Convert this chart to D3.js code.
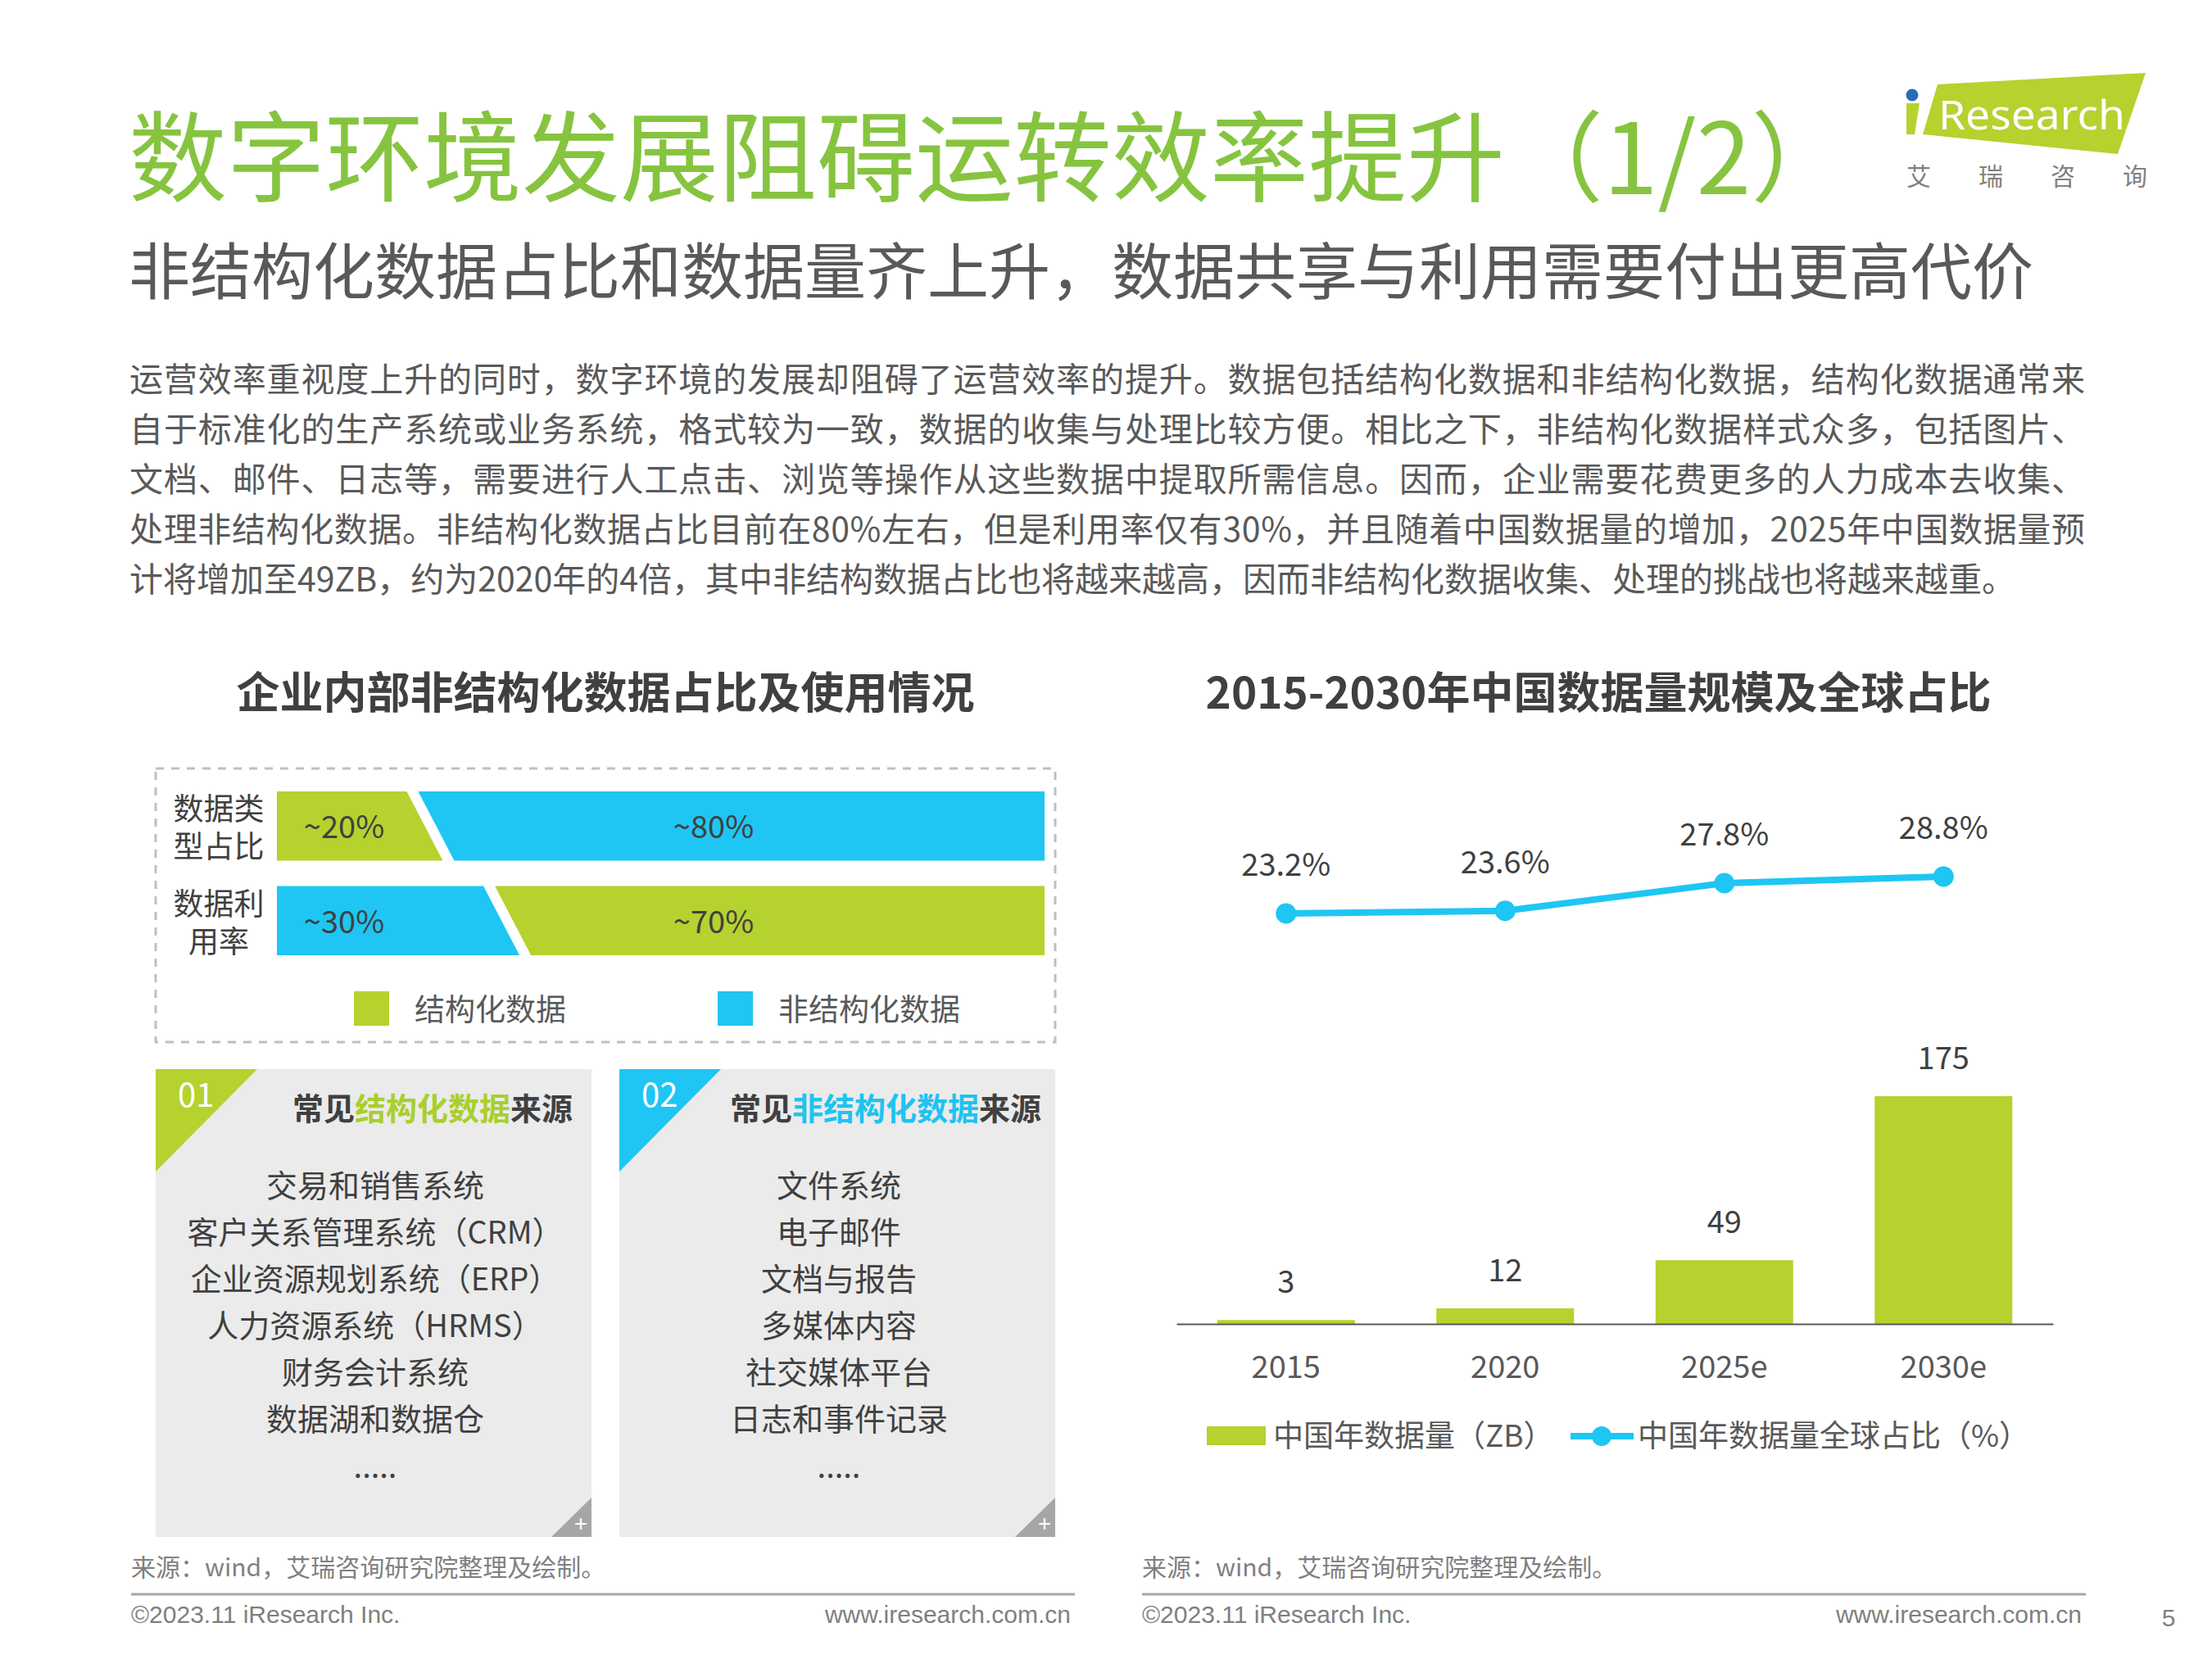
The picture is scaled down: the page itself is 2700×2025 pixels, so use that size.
<!DOCTYPE html>
<html>
<head>
<meta charset="utf-8">
<script src="https://cdn.jsdelivr.net/npm/d3@7"></script>
<style>
  body { margin: 0; background: #ffffff; }
  svg { display: block; }
</style>
</head>
<body>
<script>
// ---- datos ----
const bodyLines = [
  "运营效率重视度上升的同时，数字环境的发展却阻碍了运营效率的提升。数据包括结构化数据和非结构化数据，结构化数据通常来",
  "自于标准化的生产系统或业务系统，格式较为一致，数据的收集与处理比较方便。相比之下，非结构化数据样式众多，包括图片、",
  "文档、邮件、日志等，需要进行人工点击、浏览等操作从这些数据中提取所需信息。因而，企业需要花费更多的人力成本去收集、",
  "处理非结构化数据。非结构化数据占比目前在80%左右，但是利用率仅有30%，并且随着中国数据量的增加，2025年中国数据量预",
  "计将增加至49ZB，约为2020年的4倍，其中非结构数据占比也将越来越高，因而非结构化数据收集、处理的挑战也将越来越重。"
];

const kinds = ["结构化数据", "非结构化数据"];
const rowNames = ["数据类型占比", "数据利用率"];
const rowLabelLines = [["数据类", "型占比"], ["数据利", "用率"]];
const leftKinds = ["结构化数据", "非结构化数据"];
const rightKinds = ["非结构化数据", "结构化数据"];
const leftValues = [20, 30];
const rightValues = [80, 70];

const structuredSources = ["交易和销售系统", "客户关系管理系统（CRM）", "企业资源规划系统（ERP）", "人力资源系统（HRMS）", "财务会计系统", "数据湖和数据仓", "....."];
const unstructuredSources = ["文件系统", "电子邮件", "文档与报告", "多媒体内容", "社交媒体平台", "日志和事件记录", "....."];

const years = ["2015", "2020", "2025e", "2030e"];
const volumeZB = [3, 12, 49, 175];
const globalShare = [23.2, 23.6, 27.8, 28.8];

// ---- configuracion ----
const width = 2700;
const height = 2025;
const cjk = "'Noto Sans CJK SC', 'Noto Sans', sans-serif";
const arial = "'Liberation Sans', Arial, sans-serif";
const green = "#B5D22F";
const blue = "#1FC6F3";
const titleGreen = "#86C440";
const dark = "#404040";
const mid = "#595959";
const light = "#808080";

const svg = d3.select("body")
  .append("svg")
  .attr("width", width)
  .attr("height", height);

svg.append("rect").attr("width", width).attr("height", height).attr("fill", "#fff");

// ---- cabecera ----
svg.append("text")
  .attr("x", 157).attr("y", 237)
  .attr("font-family", cjk).attr("font-size", 120)
  .attr("fill", titleGreen)
  .text("数字环境发展阻碍运转效率提升（1/2）");

svg.append("text")
  .attr("x", 157).attr("y", 359)
  .attr("font-family", cjk).attr("font-size", 75)
  .attr("fill", mid)
  .text("非结构化数据占比和数据量齐上升，数据共享与利用需要付出更高代价");

svg.append("g").selectAll("text")
  .data(bodyLines)
  .enter()
  .append("text")
  .attr("x", 158)
  .attr("y", (d, i) => 478 + i * 61)
  .attr("font-family", cjk).attr("font-size", 41)
  .attr("fill", mid)
  .each(function (d, i) {
    if (i < bodyLines.length - 1) {
      d3.select(this).attr("textLength", 2387).attr("lengthAdjust", "spacing");
    }
  })
  .text(d => d);

// logo
const logo = svg.append("g");
logo.append("polygon")
  .attr("points", "2365,103 2619,89 2585,188 2347,164")
  .attr("fill", green);
logo.append("polygon")
  .attr("points", "2327,126 2343,126 2337,164 2327,164")
  .attr("fill", green);
logo.append("circle").attr("cx", 2334).attr("cy", 116).attr("r", 7.5).attr("fill", "#2A6BB8");
logo.append("text")
  .attr("x", 2366).attr("y", 158)
  .attr("font-family", "'Noto Sans', sans-serif").attr("font-size", 50)
  .attr("textLength", 228).attr("lengthAdjust", "spacingAndGlyphs")
  .attr("fill", "#fff")
  .text("Research");
logo.selectAll(".logo-cn")
  .data(["艾", "瑞", "咨", "询"])
  .enter()
  .append("text")
  .attr("class", "logo-cn")
  .attr("x", (d, i) => 2342 + i * 88)
  .attr("y", 226)
  .attr("text-anchor", "middle")
  .attr("font-family", cjk).attr("font-size", 30)
  .attr("fill", light)
  .text(d => d);

// ---- grafico izquierdo ----
svg.append("text")
  .attr("x", 739).attr("y", 865)
  .attr("text-anchor", "middle")
  .attr("font-family", cjk).attr("font-size", 53).attr("font-weight", "bold")
  .attr("fill", dark)
  .text("企业内部非结构化数据占比及使用情况");

svg.append("rect")
  .attr("x", 190).attr("y", 938)
  .attr("width", 1098).attr("height", 334)
  .attr("fill", "none")
  .attr("stroke", "#BFBFBF").attr("stroke-width", 3)
  .attr("stroke-dasharray", "10,9");

const colorScale = d3.scaleOrdinal().domain(kinds).range([green, blue]);
const xShare = d3.scaleLinear().domain([0, 100]).range([338, 1275]);
const yRow = d3.scaleBand().domain(rowNames).range([966, 1166]).paddingInner(0.27);

const slant = 22;
const gap = 7;

rowNames.forEach(function (name, i) {
  const top = yRow(name);
  const bot = top + yRow.bandwidth();
  const cx = xShare(leftValues[i]);
  const x0 = xShare(0);
  const x1 = xShare(leftValues[i] + rightValues[i]);

  svg.append("polygon")
    .attr("points", [[x0, top], [cx - slant - gap, top], [cx + slant - gap, bot], [x0, bot]].join(" "))
    .attr("fill", colorScale(leftKinds[i]));
  svg.append("polygon")
    .attr("points", [[cx - slant + gap, top], [x1, top], [x1, bot], [cx + slant + gap, bot]].join(" "))
    .attr("fill", colorScale(rightKinds[i]));

  const mid_y = top + yRow.bandwidth() / 2;
  svg.append("text")
    .attr("x", 420).attr("y", mid_y + 15)
    .attr("text-anchor", "middle")
    .attr("font-family", cjk).attr("font-size", 38)
    .attr("fill", dark)
    .text("~" + leftValues[i] + "%");
  svg.append("text")
    .attr("x", 871).attr("y", mid_y + 15)
    .attr("text-anchor", "middle")
    .attr("font-family", cjk).attr("font-size", 38)
    .attr("fill", dark)
    .text("~" + rightValues[i] + "%");

  rowLabelLines[i].forEach(function (line, j) {
    svg.append("text")
      .attr("x", 267).attr("y", mid_y - 21 + j * 46 + 14)
      .attr("text-anchor", "middle")
      .attr("font-family", cjk).attr("font-size", 37)
      .attr("fill", dark)
      .text(line);
  });
});

// leyenda izquierda
const legendLeftX = [432, 876];
kinds.forEach(function (k, i) {
  svg.append("rect")
    .attr("x", legendLeftX[i]).attr("y", 1210)
    .attr("width", 43).attr("height", 42)
    .attr("fill", colorScale(k));
  svg.append("text")
    .attr("x", legendLeftX[i] + 74).attr("y", 1246)
    .attr("font-family", cjk).attr("font-size", 37)
    .attr("fill", mid)
    .text(k);
});

// tarjetas
function dibujarTarjeta(x, w, num, color, titleParts, items) {
  const g = svg.append("g");
  const top = 1305, h = 571;
  g.append("rect").attr("x", x).attr("y", top).attr("width", w).attr("height", h).attr("fill", "#EBEBEB");
  g.append("polygon")
    .attr("points", [[x, top], [x + 124, top], [x, top + 125]].join(" "))
    .attr("fill", color);
  g.append("text")
    .attr("x", x + 27).attr("y", 1351)
    .attr("font-family", cjk).attr("font-size", 40)
    .attr("fill", "#fff")
    .text(num);

  const t = g.append("text")
    .attr("x", titleParts.cx).attr("y", 1367)
    .attr("text-anchor", "middle")
    .attr("font-family", cjk).attr("font-size", 38).attr("font-weight", "bold")
    .attr("fill", dark);
  titleParts.parts.forEach(p => t.append("tspan").attr("fill", p[1]).text(p[0]));

  g.selectAll(".item")
    .data(items)
    .enter()
    .append("text")
    .attr("class", "item")
    .attr("x", x + w / 2 + 2)
    .attr("y", (d, i) => i < items.length - 1 ? 1461 + i * 57 : 1804)
    .attr("text-anchor", "middle")
    .attr("font-family", cjk).attr("font-size", 38)
    .attr("fill", dark)
    .text(d => d);

  g.append("polygon")
    .attr("points", [[x + w, 1828], [x + w, top + h], [x + w - 49, top + h]].join(" "))
    .attr("fill", "#A6A6A6");
  g.append("text")
    .attr("x", x + w - 13).attr("y", 1869)
    .attr("text-anchor", "middle")
    .attr("font-family", arial).attr("font-size", 28)
    .attr("fill", "#fff")
    .text("+");
}

dibujarTarjeta(190, 532, "01", green,
  { cx: 528, parts: [["常见", dark], ["结构化数据", "#A9CF2C"], ["来源", dark]] },
  structuredSources);
dibujarTarjeta(756, 532, "02", blue,
  { cx: 1081, parts: [["常见", dark], ["非结构化数据", "#1FC3F0"], ["来源", dark]] },
  unstructuredSources);

// ---- grafico derecho ----
svg.append("text")
  .attr("x", 1951).attr("y", 865)
  .attr("text-anchor", "middle")
  .attr("font-family", cjk).attr("font-size", 53).attr("font-weight", "bold")
  .attr("fill", dark)
  .text("2015-2030年中国数据量规模及全球占比");

const xBand = d3.scaleBand().domain(years).range([1436, 2506]).paddingInner(0.372).paddingOuter(0.186);
const yBar = d3.scaleLinear().domain([0, 175]).range([1616, 1338]);
const yLine = d3.scaleLinear().domain([0, 30]).range([1301.5, 1060.3]);

const barData = years.map((y, i) => ({ year: y, v: volumeZB[i], s: globalShare[i] }));

svg.append("g").selectAll("rect")
  .data(barData)
  .enter()
  .append("rect")
  .attr("x", d => xBand(d.year))
  .attr("y", d => yBar(d.v))
  .attr("width", xBand.bandwidth())
  .attr("height", d => yBar(0) - yBar(d.v))
  .attr("fill", green);

svg.append("g").selectAll("text")
  .data(barData)
  .enter()
  .append("text")
  .attr("x", d => xBand(d.year) + xBand.bandwidth() / 2)
  .attr("y", d => yBar(d.v) - 33)
  .attr("text-anchor", "middle")
  .attr("font-family", cjk).attr("font-size", 38)
  .attr("fill", dark)
  .text(d => d.v);

const ejeX = d3.axisBottom(xBand).tickSize(0).tickSizeOuter(0).tickPadding(39);
const gx = svg.append("g")
  .attr("transform", "translate(0," + yBar(0) + ")")
  .call(ejeX);
gx.select(".domain").attr("stroke", mid).attr("stroke-width", 2);
gx.selectAll("text")
  .attr("font-family", cjk).attr("font-size", 38)
  .attr("fill", mid);

const linea = d3.line()
  .x(d => xBand(d.year) + xBand.bandwidth() / 2)
  .y(d => yLine(d.s));

svg.append("path")
  .datum(barData)
  .attr("d", linea)
  .attr("fill", "none")
  .attr("stroke", blue)
  .attr("stroke-width", 8);

svg.append("g").selectAll("circle")
  .data(barData)
  .enter()
  .append("circle")
  .attr("cx", d => xBand(d.year) + xBand.bandwidth() / 2)
  .attr("cy", d => yLine(d.s))
  .attr("r", 12.5)
  .attr("fill", blue);

svg.append("g").selectAll("text")
  .data(barData)
  .enter()
  .append("text")
  .attr("x", d => xBand(d.year) + xBand.bandwidth() / 2)
  .attr("y", d => yLine(d.s) - 46)
  .attr("text-anchor", "middle")
  .attr("font-family", cjk).attr("font-size", 38)
  .attr("fill", dark)
  .text(d => d.s.toFixed(1) + "%");

// leyenda derecha
svg.append("rect")
  .attr("x", 1473).attr("y", 1741)
  .attr("width", 72).attr("height", 23)
  .attr("fill", green);
svg.append("text")
  .attr("x", 1554).attr("y", 1766)
  .attr("font-family", cjk).attr("font-size", 37)
  .attr("fill", mid)
  .text("中国年数据量（ZB）");
svg.append("line")
  .attr("x1", 1917).attr("x2", 1994)
  .attr("y1", 1753).attr("y2", 1753)
  .attr("stroke", blue).attr("stroke-width", 8);
svg.append("circle").attr("cx", 1955).attr("cy", 1753).attr("r", 12).attr("fill", blue);
svg.append("text")
  .attr("x", 1999).attr("y", 1766)
  .attr("font-family", cjk).attr("font-size", 37)
  .attr("fill", mid)
  .text("中国年数据量全球占比（%）");

// ---- pie de pagina ----
const footers = [
  { x0: 160, x1: 1312 },
  { x0: 1394, x1: 2546 }
];
footers.forEach(function (f) {
  svg.append("text")
    .attr("x", f.x0).attr("y", 1924)
    .attr("font-family", cjk).attr("font-size", 30)
    .attr("fill", light)
    .text("来源：wind，艾瑞咨询研究院整理及绘制。");
  svg.append("line")
    .attr("x1", f.x0).attr("x2", f.x1)
    .attr("y1", 1946).attr("y2", 1946)
    .attr("stroke", "#A6A6A6").attr("stroke-width", 3);
  svg.append("text")
    .attr("x", f.x0).attr("y", 1981)
    .attr("font-family", arial).attr("font-size", 30)
    .attr("fill", light)
    .text("©2023.11 iResearch Inc.");
  svg.append("text")
    .attr("x", f.x1 - 5).attr("y", 1981)
    .attr("text-anchor", "end")
    .attr("font-family", arial).attr("font-size", 30)
    .attr("fill", light)
    .text("www.iresearch.com.cn");
});
svg.append("text")
  .attr("x", 2647).attr("y", 1985)
  .attr("text-anchor", "middle")
  .attr("font-family", arial).attr("font-size", 30)
  .attr("fill", light)
  .text("5");
</script>
</body>
</html>
